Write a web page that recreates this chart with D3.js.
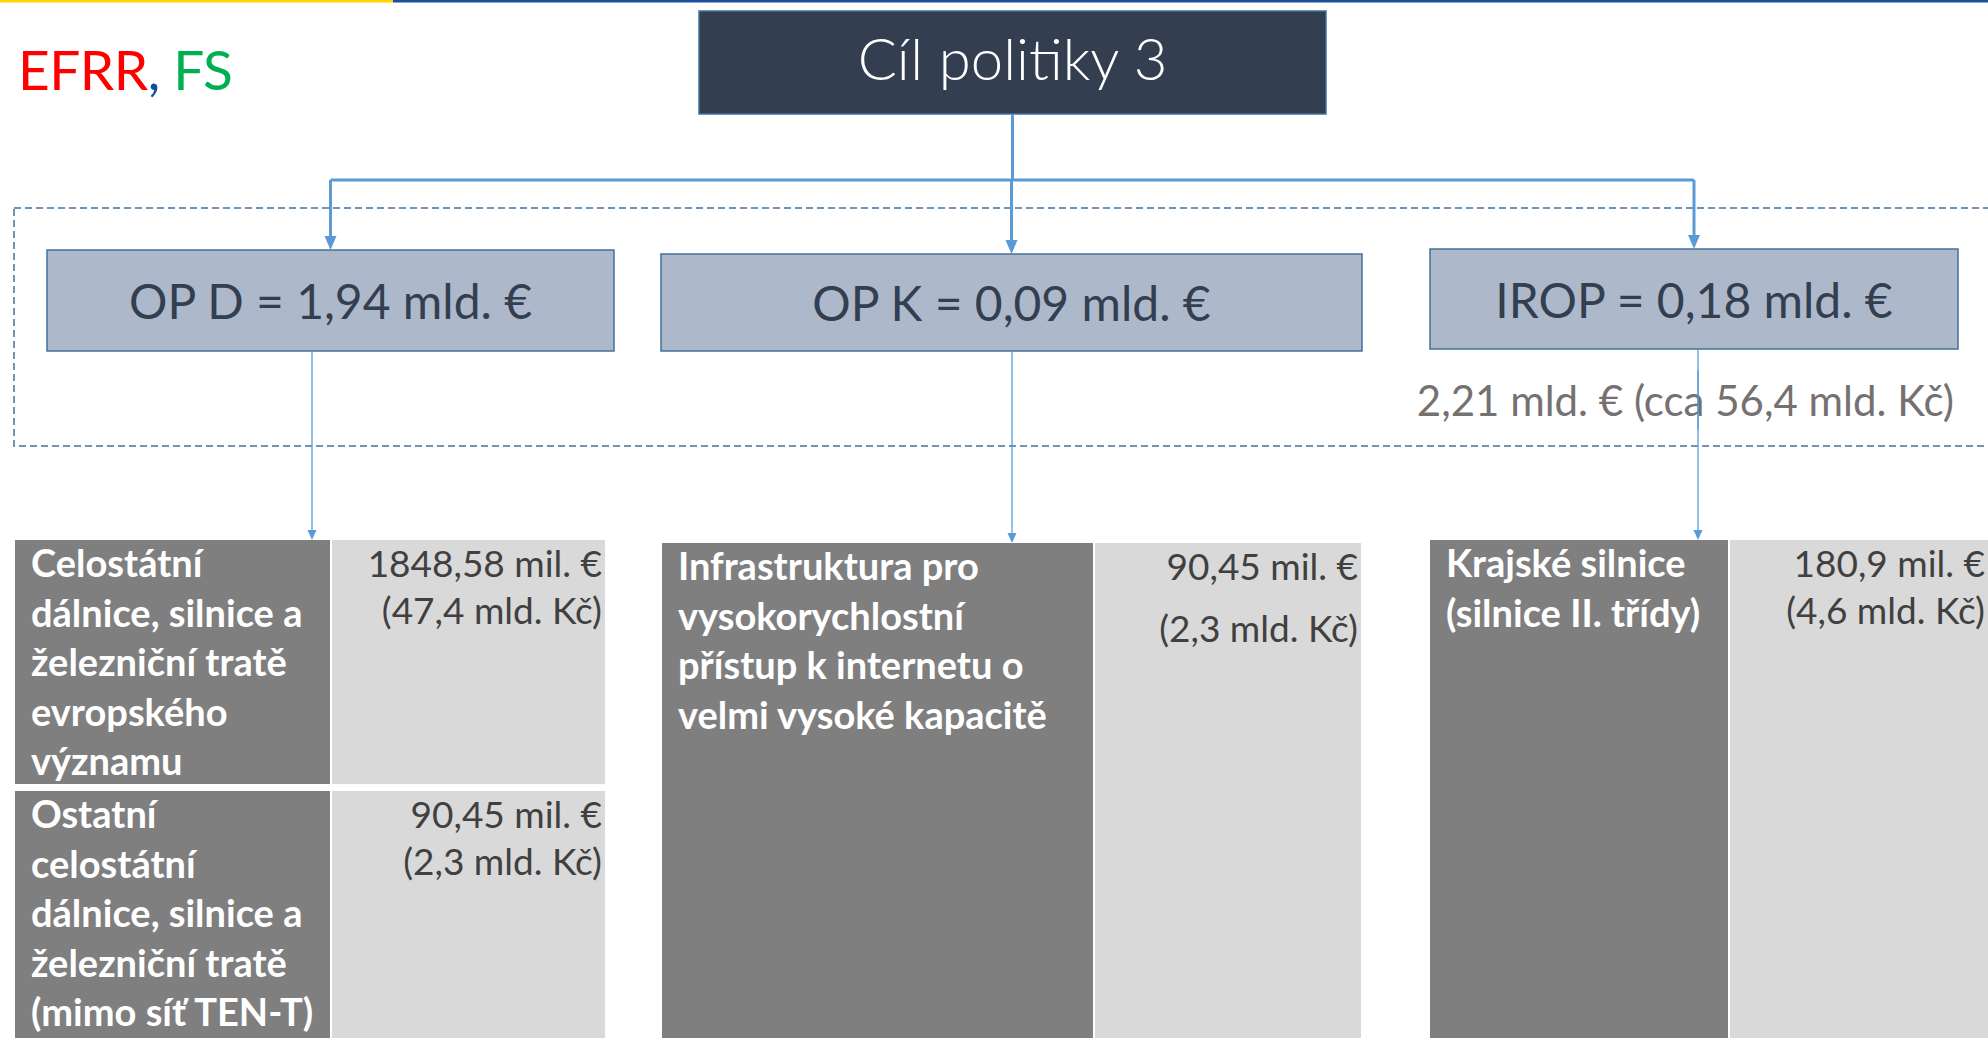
<!DOCTYPE html>
<html>
<head>
<meta charset="utf-8">
<script src="https://cdn.jsdelivr.net/npm/d3@7"></script>
<style>
  html, body { margin: 0; padding: 0; background: #fff; }
  svg { display: block; }
</style>
</head>
<body>
<div id="chart"></div>
<script>
// data
const fundNames = ["EFRR", "FS"];
const goalTitle = "Cíl politiky 3";
const programmes = ["OP D", "OP K", "IROP"];
const programmeTotals = ["1,94", "0,09", "0,18"];          // mld. €
const grandTotal = "2,21 mld. € (cca 56,4 mld. Kč)";
const areaProgramme = ["OP D", "OP D", "OP K", "IROP"];
const areaLabels = [
  ["Celostátní", "dálnice, silnice a", "železniční tratě", "evropského", "významu"],
  ["Ostatní", "celostátní", "dálnice, silnice a", "železniční tratě", "(mimo síť TEN-T)"],
  ["Infrastruktura pro", "vysokorychlostní", "přístup k internetu o", "velmi vysoké kapacitě"],
  ["Krajské silnice", "(silnice II. třídy)"]
];
const areaEur = ["1848,58", "90,45", "90,45", "180,9"];    // mil. €
const areaCzk = ["47,4", "2,3", "2,3", "4,6"];             // mld. Kč

const width = 1988, height = 1038;
const font = "Lato, 'Open Sans', sans-serif";
const arrowBlue = "#5B9BD5";

// layout of the three columns
const layout = {
  "OP D": {box: {x: 47, y: 250, w: 567, h: 101}, line: 312,
           table: {x: 15, split: 330, right: 605, top: 540}},
  "OP K": {box: {x: 661, y: 254, w: 701, h: 97}, line: 1012,
           table: {x: 662, split: 1093, right: 1361, top: 543}},
  "IROP": {box: {x: 1430, y: 249, w: 528, h: 100}, line: 1698,
           table: {x: 1430, split: 1728, right: 1992, top: 540}}
};
// row spans inside each column (OP D has two stacked rows)
const rowSpans = [[540, 784], [791, 1040], [543, 1040], [540, 1040]];
const czkGap = [47, 47, 62, 47];

const svg = d3.select("#chart").append("svg")
  .attr("width", width).attr("height", height);

// down-pointing arrow head
function arrowHead(g, x, yTip, w, h) {
  g.append("path")
    .attr("d", `M${x - w / 2},${yTip - h}L${x + w / 2},${yTip - h}L${x},${yTip}Z`)
    .attr("fill", arrowBlue);
}

// top strip
svg.append("rect").attr("x", 0).attr("y", 0).attr("width", 393).attr("height", 2.5).attr("fill", "#FFD200");
svg.append("rect").attr("x", 393).attr("y", 0).attr("width", width - 393).attr("height", 2.5).attr("fill", "#1B4F9C");

// fund label
const fund = svg.append("text")
  .attr("x", 18).attr("y", 90)
  .attr("font-family", font).attr("font-size", 55)
  .attr("letter-spacing", -0.5);
fund.append("tspan").attr("fill", "#FF0000").text(fundNames[0]);
fund.append("tspan").attr("fill", "#0B4EA2").text(", ");
fund.append("tspan").attr("fill", "#00B050").text(fundNames[1]);

// dashed frame around programme boxes
svg.append("rect")
  .attr("x", 14).attr("y", 208).attr("width", width).attr("height", 238)
  .attr("fill", "none").attr("stroke", "#41719C").attr("stroke-width", 1.5)
  .attr("stroke-dasharray", "7,4");

// goal box
const goal = {x: 699, y: 11, w: 627, h: 103};
svg.append("rect")
  .attr("x", goal.x).attr("y", goal.y).attr("width", goal.w).attr("height", goal.h)
  .attr("fill", "#333F50").attr("stroke", "#41719C").attr("stroke-width", 1.5);
svg.append("text")
  .attr("x", goal.x + goal.w / 2).attr("y", goal.y + 46)
  .attr("text-anchor", "middle").attr("dominant-baseline", "central")
  .attr("font-family", font).attr("font-weight", 300).attr("font-size", 58)
  .attr("fill", "#fff").text(goalTitle);

// connectors from goal to programmes
const conn = svg.append("g");
const centers = programmes.map(p => layout[p].box.x + layout[p].box.w / 2);
const busY = 180;
conn.append("line")
  .attr("x1", goal.x + goal.w / 2).attr("x2", goal.x + goal.w / 2)
  .attr("y1", goal.y + goal.h).attr("y2", busY)
  .attr("stroke", arrowBlue).attr("stroke-width", 3);
conn.append("line")
  .attr("x1", d3.min(centers)).attr("x2", d3.max(centers))
  .attr("y1", busY).attr("y2", busY)
  .attr("stroke", arrowBlue).attr("stroke-width", 3);
programmes.forEach((p, i) => {
  const b = layout[p].box;
  conn.append("line")
    .attr("x1", centers[i]).attr("x2", centers[i])
    .attr("y1", busY).attr("y2", b.y - 12)
    .attr("stroke", arrowBlue).attr("stroke-width", 3);
  arrowHead(conn, centers[i], b.y, 12, 14);
});

// programme boxes
const boxes = svg.selectAll("g.prog")
  .data(programmes)
  .join("g").attr("class", "prog");
boxes.append("rect")
  .attr("x", d => layout[d].box.x).attr("y", d => layout[d].box.y)
  .attr("width", d => layout[d].box.w).attr("height", d => layout[d].box.h)
  .attr("fill", "#ADB9CA").attr("stroke", "#41719C").attr("stroke-width", 1.5);
boxes.append("text")
  .attr("x", d => layout[d].box.x + layout[d].box.w / 2)
  .attr("y", d => layout[d].box.y + layout[d].box.h / 2)
  .attr("text-anchor", "middle").attr("dominant-baseline", "central")
  .attr("font-family", font).attr("font-size", 48)
  .attr("fill", "#333F50")
  .text((d, i) => `${d} = ${programmeTotals[i]} mld. €`);

// thin arrows from programmes to tables
programmes.forEach(p => {
  const L = layout[p];
  svg.append("line")
    .attr("x1", L.line).attr("x2", L.line)
    .attr("y1", L.box.y + L.box.h).attr("y2", L.table.top - 8)
    .attr("stroke", arrowBlue).attr("stroke-width", 1.3);
  arrowHead(svg, L.line, L.table.top, 9, 10);
});

// grand total
svg.append("text")
  .attr("x", 1954).attr("y", 416)
  .attr("text-anchor", "end")
  .attr("font-family", font).attr("font-size", 42)
  .attr("fill", "#767171").text(grandTotal);
// the IROP connector runs over the total text
svg.append("line")
  .attr("x1", layout["IROP"].line).attr("x2", layout["IROP"].line)
  .attr("y1", 370).attr("y2", 430)
  .attr("stroke", arrowBlue).attr("stroke-width", 1.3);

// tables
const rows = svg.selectAll("g.area")
  .data(areaProgramme.map((p, i) => ({p, i})))
  .join("g").attr("class", "area");

rows.append("rect")
  .attr("x", d => layout[d.p].table.x)
  .attr("y", d => rowSpans[d.i][0])
  .attr("width", d => layout[d.p].table.split - layout[d.p].table.x)
  .attr("height", d => rowSpans[d.i][1] - rowSpans[d.i][0])
  .attr("fill", "#7F7F7F");
rows.append("rect")
  .attr("x", d => layout[d.p].table.split + 2)
  .attr("y", d => rowSpans[d.i][0])
  .attr("width", d => layout[d.p].table.right - layout[d.p].table.split - 2)
  .attr("height", d => rowSpans[d.i][1] - rowSpans[d.i][0])
  .attr("fill", "#D9D9D9");

rows.each(function(d) {
  const g = d3.select(this);
  const T = layout[d.p].table;
  const top = rowSpans[d.i][0];
  g.append("text")
    .attr("font-family", font).attr("font-weight", 700).attr("font-size", 38)
    .attr("fill", "#fff")
    .selectAll("tspan")
    .data(areaLabels[d.i])
    .join("tspan")
    .attr("x", T.x + 16)
    .attr("y", (s, k) => top + 37 + k * 49.6)
    .text(s => s);
  const v = g.append("text")
    .attr("font-family", font).attr("font-size", 37)
    .attr("fill", "#404040").attr("text-anchor", "end");
  v.append("tspan").attr("x", Math.min(T.right, width) - 3).attr("y", top + 37)
    .text(`${areaEur[d.i]} mil. €`);
  v.append("tspan").attr("x", Math.min(T.right, width) - 3).attr("y", top + 37 + czkGap[d.i])
    .text(`(${areaCzk[d.i]} mld. Kč)`);
});
</script>
</body>
</html>
